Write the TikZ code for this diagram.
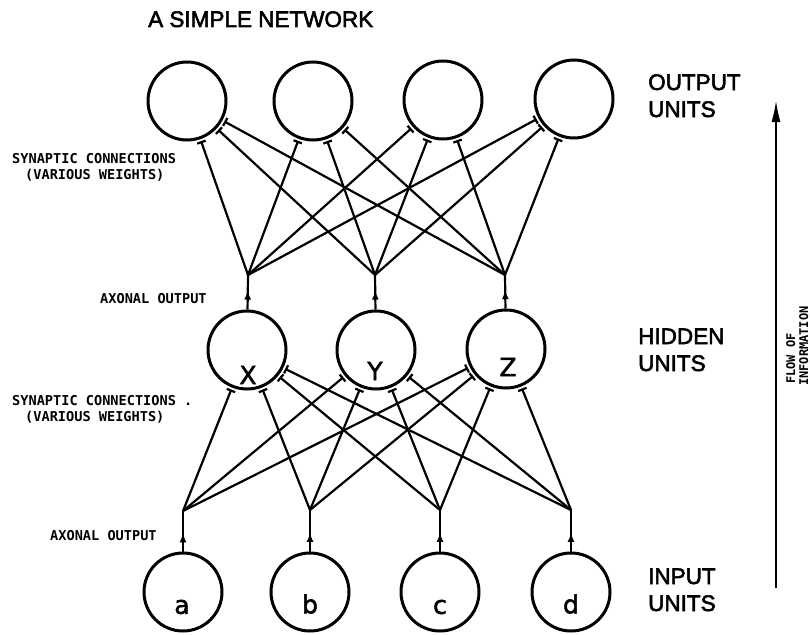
\documentclass[tikz,border=0pt]{standalone}
\usepackage{fontspec}
\setmainfont{Liberation Sans}
\newfontfamily\bigfont{Liberation Sans}[FakeBold=2.5]
\newfontfamily\lblfont{DejaVu Sans Mono}
\newfontfamily\handfont{DejaVu Sans}[FakeBold=2]
\usetikzlibrary{arrows.meta,decorations.markings}

\begin{document}
\begin{tikzpicture}[x=1pt,y=-1pt,
  unit/.style={circle,draw,line width=3pt,minimum size=78pt,inner sep=0pt},
  syn/.style={line width=2.2pt,-{Bar[width=9pt,line width=2.2pt]},shorten >=2pt},
  axon/.style={line width=2.2pt,postaction={decorate},
    decoration={markings,mark=at position #1 with {\arrow{Latex[length=9pt,width=7pt]}}}},
  smalllbl/.style={font=\lblfont\bfseries\fontsize{13.6}{16}\selectfont,anchor=base west,inner sep=0pt},
  flowlbl/.style={font=\lblfont\bfseries\fontsize{12}{14}\selectfont,anchor=base west,inner sep=0pt,rotate=90},
  biglbl/.style={font=\bigfont\fontsize{22.5}{27}\selectfont,anchor=base west,inner sep=0pt},
  hand/.style={font=\handfont\fontsize{25}{25}\selectfont,inner sep=0pt}
]
\fill[white] (0,0) rectangle (810,634);
\useasboundingbox (0,0) rectangle (810,634);

% title
\node[biglbl] (title) at (148,27) {A SIMPLE NETWORK};

% output units
\node[unit] (o1) at (187,101) {};
\node[unit] (o2) at (313,101) {};
\node[unit] (o3) at (443,100) {};
\node[unit] (o4) at (574,99) {};

% hidden units
\node[unit] (hx) at (247,350) {};
\node[unit] (hy) at (376,350) {};
\node[unit] (hz) at (506,349) {};
\node[hand] (lx) at (248,375) {X};
\node[hand] (ly) at (375,371) {Y};
\node[hand] (lz) at (508,367) {Z};

% input units
\node[unit] (i1) at (183,592) {};
\node[unit] (i2) at (310,592) {};
\node[unit] (i3) at (440,592) {};
\node[unit] (i4) at (571,592) {};
\node[hand] (la) at (182,607) {a};
\node[hand] (lb) at (310,604) {b};
\node[hand] (lc) at (440,607) {c};
\node[hand] (ld) at (571,604) {d};

% branching points of the axons
\coordinate (ca) at (183,511);
\coordinate (cb) at (310,510);
\coordinate (cc) at (440,510);
\coordinate (cd) at (571,510);
\coordinate (cx) at (248,275);
\coordinate (cy) at (375,275);
\coordinate (cz) at (505,275);

% axonal outputs
\draw[axon=0.45] (i1) -- (ca);
\draw[axon=0.45] (i2) -- (cb);
\draw[axon=0.45] (i3) -- (cc);
\draw[axon=0.45] (i4) -- (cd);
\draw[axon=0.55] (hx) -- (cx);
\draw[axon=0.55] (hy) -- (cy);
\draw[axon=0.55] (hz) -- (cz);

% synaptic connections input -> hidden
\foreach \s in {ca,cb,cc,cd}
  \foreach \t in {hx,hy,hz}
    \draw[syn] (\s) -- (\t);
% synaptic connections hidden -> output
\foreach \s in {cx,cy,cz}
  \foreach \t in {o1,o2,o3,o4}
    \draw[syn] (\s) -- (\t);

% left labels
\node[smalllbl] (s1a) at (12,163) {SYNAPTIC CONNECTIONS};
\node[smalllbl] (s1b) at (25,179) {(VARIOUS WEIGHTS)};
\node[smalllbl] (ax1) at (100,303) {AXONAL OUTPUT};
\node[smalllbl] (s2a) at (12,405) {SYNAPTIC CONNECTIONS .};
\node[smalllbl] (s2b) at (25,421) {(VARIOUS WEIGHTS)};
\node[smalllbl] (ax2) at (50,540) {AXONAL OUTPUT};

% right labels
\node[biglbl] (out1) at (648,90) {OUTPUT};
\node[biglbl] (out2) at (648,117) {UNITS};
\node[biglbl] (hid1) at (638,344) {HIDDEN};
\node[biglbl] (hid2) at (638,371) {UNITS};
\node[biglbl] (in1) at (648,584) {INPUT};
\node[biglbl] (in2) at (648,611) {UNITS};

% flow of information
\coordinate (fb) at (776,588);
\coordinate (ft) at (776,100);
\draw[line width=2pt,-{Latex[length=22pt,width=9pt]}] (fb) -- (ft);
\node[flowlbl] (fl1) at (795,384) {FLOW OF};
\node[flowlbl] (fl2) at (808,386) {INFORMATION};
\end{tikzpicture}
\end{document}
